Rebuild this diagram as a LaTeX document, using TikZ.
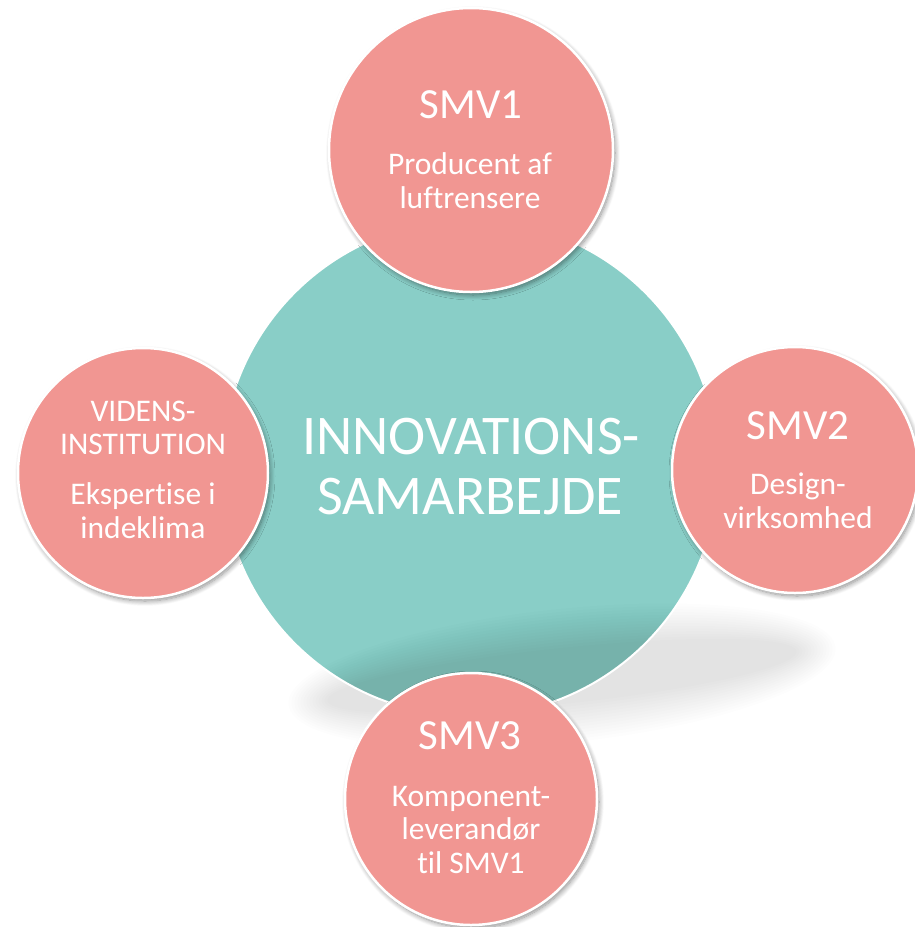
\documentclass[tikz,border=0pt]{standalone}
\usepackage{fontspec}
\setmainfont{Carlito}[Ligatures={NoCommon}]
\usetikzlibrary{shadows.blur}
\definecolor{pinkc}{HTML}{F19692}
\definecolor{tealc}{HTML}{89CEC7}
\begin{document}
\begin{tikzpicture}[x=1pt,y=-1pt,
  pinkcirc/.style={circle, fill=pinkc, draw=white, line width=2.5pt, inner sep=0pt, minimum size=#1,
    blur shadow={shadow xshift=2pt, shadow yshift=-3pt, shadow blur radius=5pt, shadow blur steps=10, shadow opacity=45}},
  title/.style={anchor=base, text=white, font=\fontsize{43}{50}\selectfont, inner sep=0pt},
  sub/.style={anchor=base, text=white, font=\fontsize{31.5}{34}\selectfont, inner sep=0pt},
  big/.style={anchor=base, text=white, font=\fontsize{56}{60}\selectfont, inner sep=0pt}]
\useasboundingbox (0,0) rectangle (915,927);
% central circle
\node[circle, fill=tealc, minimum size=496pt, inner sep=0pt] (core) at (470,468) {};
% cast shadow
\foreach \i in {0,...,13}
  \fill[black, opacity=0.0072] (562,676) ellipse [x radius=236+3*\i, y radius=28+3*\i, rotate=6];
\draw[white, line width=2pt] (core.center) circle [radius=248pt];
% outer circles
\node[pinkcirc=284pt] (smv1) at (471,150) {};
\node[pinkcirc=246pt] (smv2) at (795,470) {};
\node[pinkcirc=250pt] (viden) at (143,473) {};
\node[pinkcirc=252pt] (smv3) at (471,799) {};
% texts
\node[big] (c1) at (471,454) {INNOVATIONS-};
\node[big] (c2) at (470,514) {SAMARBEJDE};
\node[title] (t1) at (471,118) {SMV1};
\node[sub] (s1a) at (470,174) {Producent af};
\node[sub] (s1b) at (470,208) {luftrensere};
\node[title] (t2) at (798,439) {SMV2};
\node[sub] (s2a) at (798,494) {Design-};
\node[sub] (s2b) at (798,528) {virksomhed};
\node[sub] (t4a) at (143,421) {VIDENS-};
\node[sub] (t4b) at (143,454) {INSTITUTION};
\node[sub] (s4a) at (143,504) {Ekspertise i};
\node[sub] (s4b) at (143,538) {indeklima};
\node[title] (t3) at (470,749) {SMV3};
\node[sub] (s3a) at (471,806) {Komponent-};
\node[sub] (s3b) at (471,839) {leverandør};
\node[sub] (s3c) at (471,873) {til SMV1};
\end{tikzpicture}
\end{document}
